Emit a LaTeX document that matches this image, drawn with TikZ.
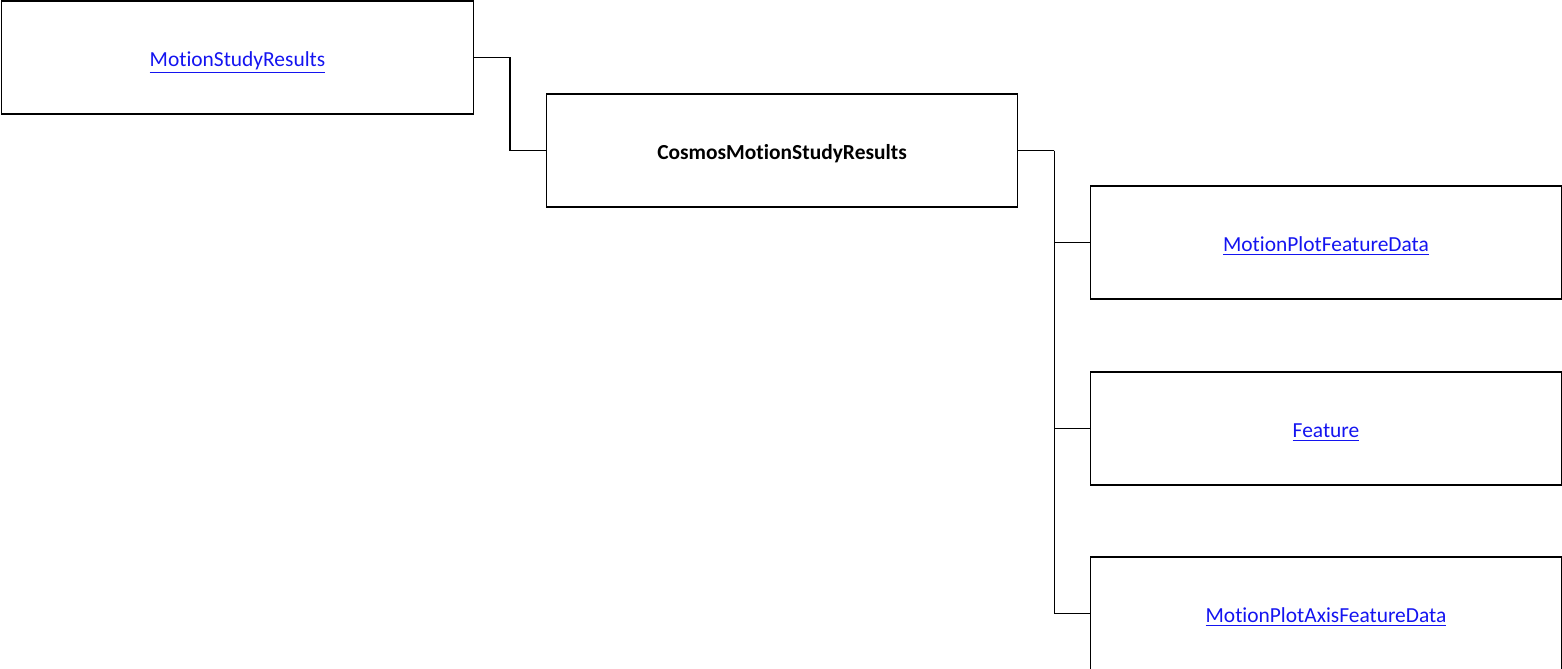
\documentclass[tikz,border=0pt]{standalone}
\usepackage{fontspec}
\setmainfont{Carlito}[Ligatures=NoCommon]
\usepackage{xcolor}
\usetikzlibrary{positioning,calc}

\definecolor{linkblue}{RGB}{20,20,240}
\newcommand{\lnk}[1]{\textcolor{linkblue}{\underline{#1}}}

\tikzset{
  box/.style={draw, line width=0.6pt, minimum width=9.44cm, minimum height=2.26cm,
    inner sep=0pt, text height=10pt, text depth=0pt,
    font=\fontsize{12.2}{14}\selectfont},
  link/.style={line width=1.1pt}
}

\begin{document}
\begin{tikzpicture}[x=0.02cm, y=-0.02cm]
    \useasboundingbox (0,0) rectangle (1562,669);
    \clip (0,0) rectangle (1562,669);

    % root and the study results box
    \node [box] (msr) at (237.5,57.5) {\lnk{MotionStudyResults}};
    \node [box] (cmsr) at (782,150.5) {\textbf{CosmosMotionStudyResults}};

    % children
    \node [box] (mpfd) at (1326,242.5) {\lnk{MotionPlotFeatureData}};
    \node [box] (feat) at (1326,428.5) {\lnk{Feature}};
    \node [box] (mpafd) at (1326,613.5) {\lnk{MotionPlotAxisFeatureData}};

    % connectors
    \draw [link] (msr.east) -- ++(36,0) |- (cmsr.west);
    \coordinate (fork) at ($(cmsr.east)+(36,0)$);
    \draw [link] (cmsr.east) -- (fork);
    \foreach \c in {mpfd,feat,mpafd}
        \draw [link] (fork) |- (\c.west);
\end{tikzpicture}
\end{document}
